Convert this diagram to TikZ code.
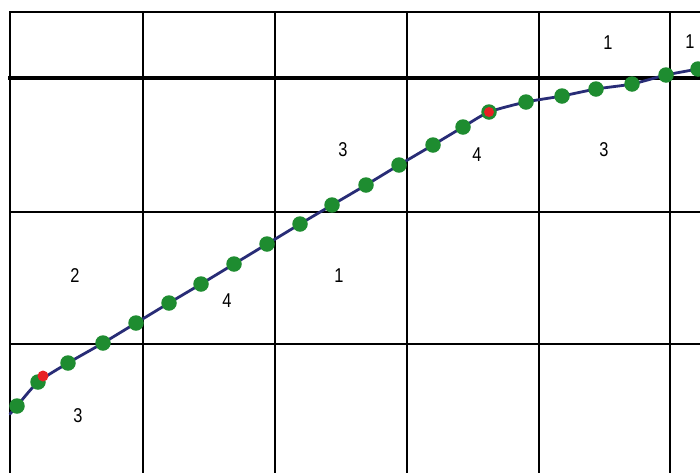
\documentclass[tikz,border=0pt]{standalone}
\usepackage{fontspec}
\setmainfont{Liberation Sans}[FakeStretch=0.82]
\usetikzlibrary{calc}
\definecolor{routeblue}{RGB}{40,44,118}
\definecolor{wpgreen}{RGB}{30,140,48}
\definecolor{wpred}{RGB}{232,32,36}

\begin{document}
\begin{tikzpicture}[
  x=1pt,y=-1pt,
  line join=round,
  grid/.style={draw=black,line width=2.5pt,line cap=rect},
  route/.style={draw=routeblue,line width=2.8pt,line cap=round},
  wp/.style={circle,fill=wpgreen,inner sep=0pt,minimum size=15.5pt},
  wpmark/.style={circle,fill=wpred,inner sep=0pt,minimum size=#1},
  cell/.style={font=\fontsize{20}{22}\selectfont}
]
\useasboundingbox (0,0) rectangle (700,472);
\fill[white] (0,0) rectangle (700,472);

% Grid
\foreach \x in {10,143,275,407,539,670}
  \draw[grid] (\x,12) -- (\x,480);
\foreach \y in {12,212,344}
  \draw[grid] (10,\y) -- (710,\y);
\draw[grid,line width=3.6pt] (10,78) -- (710,78);

% Waypoints along the route
\coordinate (start) at (10,414);
\coordinate (stop) at (702,68);
\foreach \px/\py [count=\i] in {17/406,38/382,68/363,103/343,136/323,169/303,
    201/284,234/264,267/244,300/224,332/205,366/185,399/165,433/145,463/127,
    489/112,526/102,562/96,596/89,632/84,666/75,698/69}
  \coordinate (c\i) at (\px,\py);

\draw[route] plot[smooth,tension=0.4] coordinates {(start) (c1) (c2) (c3) (c4)
  (c5) (c6) (c7) (c8) (c9) (c10) (c11) (c12) (c13) (c14) (c15) (c16) (c17)
  (c18) (c19) (c20) (c21) (c22) (stop)};

\foreach \i in {1,...,22}
  \node[wp] (wp\i) at (c\i) {};

% Red markers
\node[wpmark=11pt] (mk1) at (43,376) {};
\node[wpmark=10pt] (mk2) at (wp16) {};

% Cell labels
\node[cell] (t1) at (608,43) {1};
\node[cell] (t2) at (690,42) {1};
\node[cell] (t3) at (343,150) {3};
\node[cell] (t4) at (477,155) {4};
\node[cell] (t5) at (604,150) {3};
\node[cell] (t6) at (75,276) {2};
\node[cell] (t7) at (227,301) {4};
\node[cell] (t8) at (339,276) {1};
\node[cell] (t9) at (78,416) {3};

\end{tikzpicture}
\end{document}
